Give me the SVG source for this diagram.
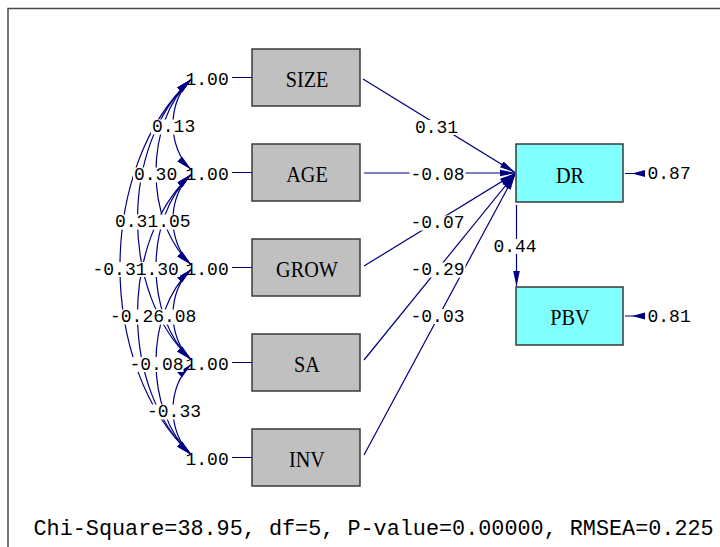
<svg xmlns="http://www.w3.org/2000/svg" width="720" height="547" viewBox="0 0 720 547">
  <defs>
    <marker id="head" markerUnits="userSpaceOnUse" markerWidth="16" markerHeight="8" viewBox="0 0 16 8" refX="15.5" refY="4" orient="auto-start-reverse">
      <path d="M0,0.6 L16,4 L0,7.4 Z" fill="#000080"/>
    </marker>
    <style>
      .frame { fill: none; stroke: #4a4a4a; stroke-width: 1.5; }
      .obs { fill: #c0c0c0; stroke: #3a3a3a; stroke-width: 1.5; }
      .endo { fill: #80ffff; stroke: #3a3a3a; stroke-width: 1.5; }
      .name { font-family: "Liberation Serif", "Times New Roman", serif; font-size: 23px; fill: #000; text-anchor: middle; }
      .num { font-family: "Liberation Mono", "Courier New", monospace; font-size: 18px; fill: #000; }
      .mid { text-anchor: middle; }
      .bg { fill: #ffffff; }
      .ln { fill: none; stroke: #000080; stroke-width: 1.2; }
      .arr { fill: none; stroke: #000080; stroke-width: 1.2; marker-end: url(#head); }
      .cov { fill: none; stroke: #000080; stroke-width: 1.2; marker-start: url(#head); marker-end: url(#head); }
      .fit { font-family: "Liberation Mono", "Courier New", monospace; font-size: 21.8px; fill: #000; }
    </style>
  </defs>

  <!-- plot frame -->
  <path class="frame" d="M8,547 V8.5 H720"/>

  <!-- observed exogenous variables -->
  <g id="SIZE">
    <rect class="obs" x="252" y="49" width="108" height="57"/>
    <text class="name" transform="translate(307,86.5) scale(0.88,1)">SIZE</text>
  </g>
  <g id="AGE">
    <rect class="obs" x="252" y="144" width="108" height="57"/>
    <text class="name" transform="translate(307,181.5) scale(0.88,1)">AGE</text>
  </g>
  <g id="GROW">
    <rect class="obs" x="252" y="239" width="108" height="57"/>
    <text class="name" transform="translate(307,276.5) scale(0.88,1)">GROW</text>
  </g>
  <g id="SA">
    <rect class="obs" x="252" y="334" width="108" height="57"/>
    <text class="name" transform="translate(307,371.5) scale(0.88,1)">SA</text>
  </g>
  <g id="INV">
    <rect class="obs" x="252" y="429" width="108" height="57"/>
    <text class="name" transform="translate(307,466.5) scale(0.88,1)">INV</text>
  </g>

  <!-- endogenous variables -->
  <g id="DR">
    <rect class="endo" x="516" y="144" width="107" height="58"/>
    <text class="name" transform="translate(570,182.5) scale(0.88,1)">DR</text>
  </g>
  <g id="PBV">
    <rect class="endo" x="516" y="287" width="107" height="58"/>
    <text class="name" transform="translate(570,324.5) scale(0.88,1)">PBV</text>
  </g>

  <!-- variances of the exogenous variables -->
  <g id="variances">
    <text class="num" x="185.5" y="85">1.00</text>
    <text class="num" x="185.5" y="180">1.00</text>
    <text class="num" x="185.5" y="275">1.00</text>
    <text class="num" x="185.5" y="370">1.00</text>
    <text class="num" x="185.5" y="465">1.00</text>
    <path class="ln" d="M232,77.5 H252 M232,172.5 H252 M232,267.5 H252 M232,362.5 H252 M232,457.5 H252"/>
  </g>

  <g id="connectors">
    <!-- covariances between exogenous variables -->
    <path class="cov" d="M191,79.5 C167,101.8 167,147.2 191,169.5"/>
    <path class="cov" d="M191,174.5 C167,196.8 167,242.2 191,264.5"/>
    <path class="cov" d="M191,269.5 C167,291.8 167,337.2 191,359.5"/>
    <path class="cov" d="M191,364.5 C167,386.8 167,432.2 191,454.5"/>
    <path class="cov" d="M191,79.5 C144.3,122.9 144.3,221.1 191,264.5"/>
    <path class="cov" d="M191,174.5 C144.3,217.9 144.3,316.1 191,359.5"/>
    <path class="cov" d="M191,269.5 C144.3,312.9 144.3,411.1 191,454.5"/>
    <path class="cov" d="M191,79.5 C119.7,145.8 119.7,293.2 191,359.5"/>
    <path class="cov" d="M191,174.5 C119.7,240.8 119.7,388.2 191,454.5"/>
    <path class="cov" d="M191,79.5 C96.3,167.5 96.3,366.5 191,454.5"/>

    <!-- structural paths into DR -->
    <path class="arr" d="M363,79 L515,172.5"/>
    <path class="arr" d="M364,173 L515,173"/>
    <path class="arr" d="M364,266 L515,173.5"/>
    <path class="arr" d="M364,360 L515,174"/>
    <path class="arr" d="M364,455 L515,174.5"/>

    <!-- DR to PBV -->
    <path class="arr" d="M516.5,205 V286"/>

    <!-- error terms -->
    <path class="ln" d="M625,173.5 H645 M625,316 H645"/>
    <path d="M632,173.5 L645,170 L645,177 Z M632,316 L645,312.5 L645,319.5 Z" fill="#000080"/>
  </g>

  <!-- covariance estimates -->
  <g id="cov-labels">
    <rect class="bg" x="151" y="119.5" width="45.2" height="15"/>
    <text class="num" x="152" y="132">0.13</text>
    <rect class="bg" x="146.4" y="214.5" width="45.2" height="15"/>
    <text class="num" x="147.4" y="227">0.05</text>
    <rect class="bg" x="152.2" y="309.5" width="45.2" height="15"/>
    <text class="num" x="153.2" y="322">0.08</text>
    <rect class="bg" x="146" y="404.5" width="56" height="15"/>
    <text class="num" x="147" y="417">-0.33</text>

    <rect class="bg" x="133" y="167.5" width="45.2" height="15"/>
    <text class="num" x="134" y="180">0.30</text>
    <rect class="bg" x="134.7" y="262" width="45.2" height="15"/>
    <text class="num" x="135.7" y="274.5">0.30</text>
    <rect class="bg" x="128.5" y="357" width="55" height="15"/>
    <text class="num" x="129.5" y="369.5">-0.08</text>

    <rect class="bg" x="114" y="214.5" width="45.2" height="15"/>
    <text class="num" x="115" y="227">0.31</text>
    <rect class="bg" x="109" y="309.5" width="56" height="15"/>
    <text class="num" x="110" y="322">-0.26</text>

    <rect class="bg" x="91.5" y="262" width="56" height="15"/>
    <text class="num" x="92.5" y="274.5">-0.31</text>
  </g>

  <!-- path coefficients -->
  <g id="path-labels">
    <rect class="bg" x="414" y="120" width="45.2" height="15"/>
    <text class="num mid" x="436.5" y="132.5">0.31</text>
    <rect class="bg" x="409.5" y="167.5" width="56" height="15"/>
    <text class="num mid" x="437.5" y="180">-0.08</text>
    <rect class="bg" x="409.5" y="215.5" width="56" height="15"/>
    <text class="num mid" x="437.5" y="228">-0.07</text>
    <rect class="bg" x="409.5" y="262.5" width="56" height="15"/>
    <text class="num mid" x="437.5" y="275">-0.29</text>
    <rect class="bg" x="409.5" y="309" width="56" height="15"/>
    <text class="num mid" x="437.5" y="321.5">-0.03</text>
    <rect class="bg" x="492.4" y="239" width="45.2" height="15"/>
    <text class="num mid" x="515" y="251.5">0.44</text>
    <text class="num" x="647.5" y="178.5">0.87</text>
    <text class="num" x="647.5" y="321.5">0.81</text>
  </g>

  <!-- fit statistics -->
  <text class="fit" x="33.5" y="535">Chi-Square=38.95, df=5, P-value=0.00000, RMSEA=0.225</text>
</svg>
